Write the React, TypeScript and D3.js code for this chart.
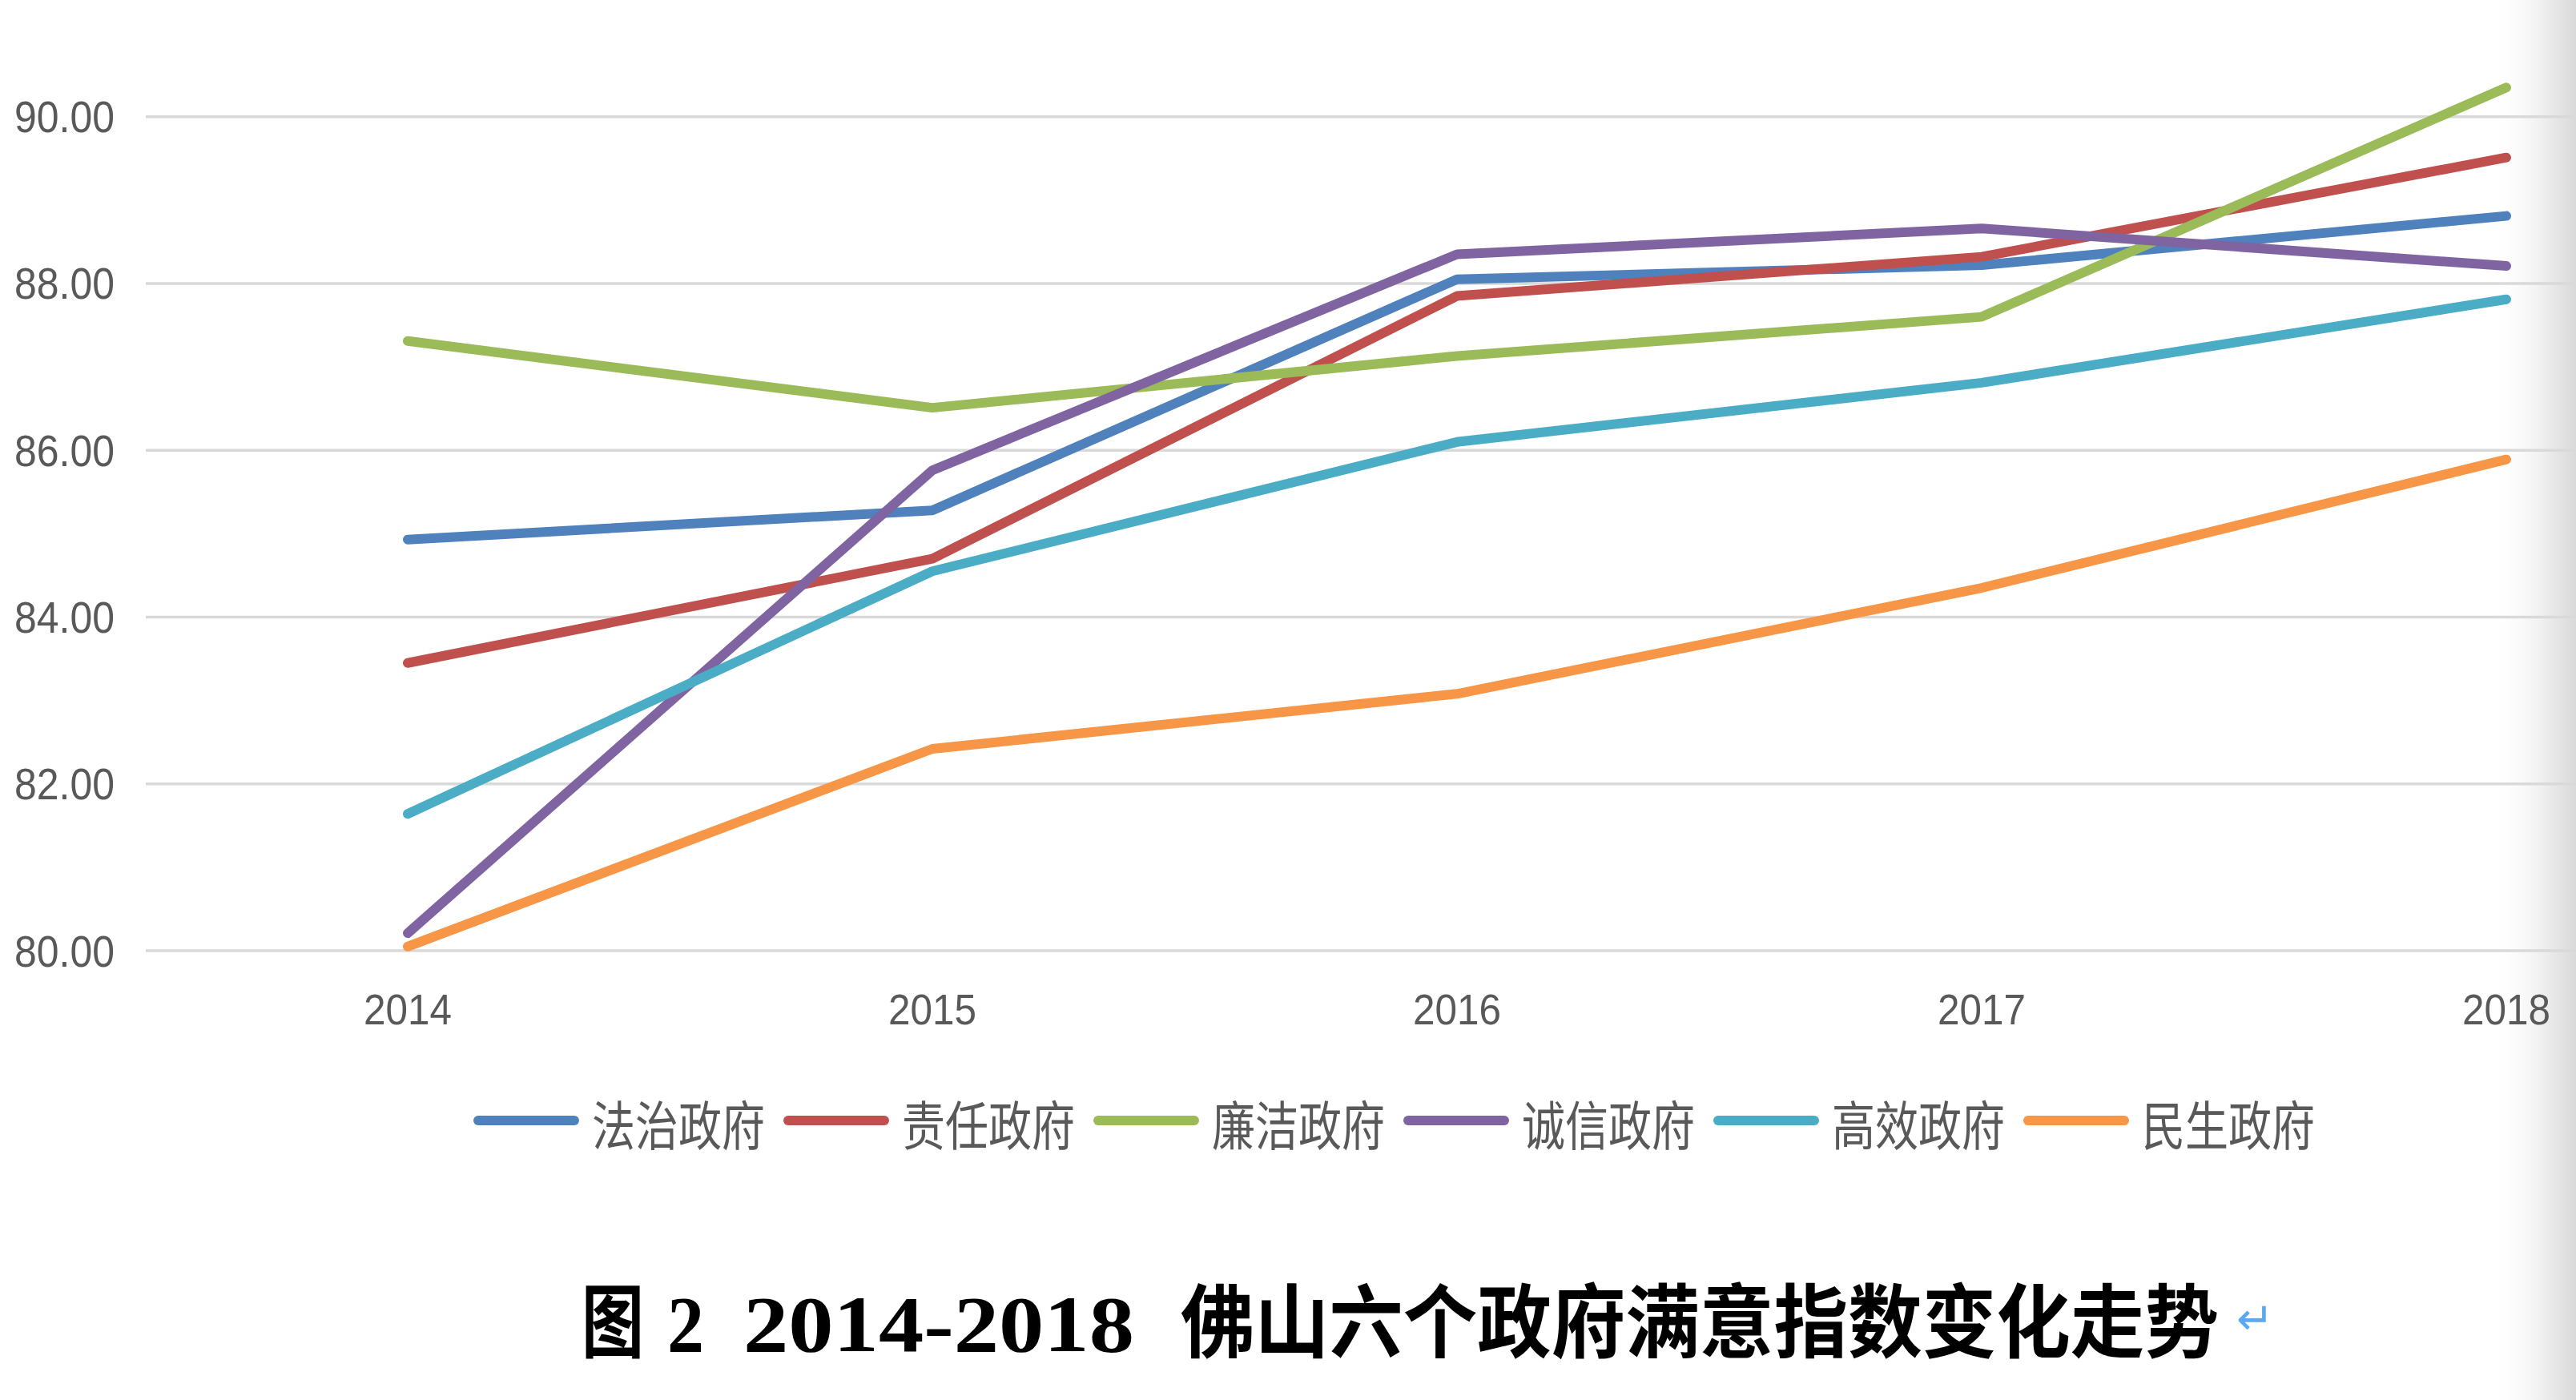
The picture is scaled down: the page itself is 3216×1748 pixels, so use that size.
import React, { useEffect, useRef } from "react";
import * as d3 from "d3";

const years = ["2014", "2015", "2016", "2017", "2018"];
const seriesNames = ["法治政府", "责任政府", "廉洁政府", "诚信政府", "高效政府", "民生政府"];
const fazhi = [84.93, 85.28, 88.05, 88.22, 88.81];
const zeren = [83.45, 84.7, 87.85, 88.32, 89.51];
const lianjie = [87.31, 86.51, 87.13, 87.6, 90.35];
const chengxin = [80.21, 85.76, 88.35, 88.66, 88.21];
const gaoxiao = [81.64, 84.55, 86.1, 86.81, 87.81];
const minsheng = [80.05, 82.42, 83.08, 84.35, 85.89];
const seriesValues = [fazhi, zeren, lianjie, chengxin, gaoxiao, minsheng];
const seriesColors = ["#4F81BD", "#C0504D", "#9BBB59", "#8064A2", "#4BACC6", "#F79646"];
const yTicks = [80, 82, 84, 86, 88, 90];
const titleParts = ["图", "2", "2014-2018", "佛山六个政府满意指数变化走势"];

const W = 3216;
const H = 1748;

export default function App() {
  const ref = useRef<SVGSVGElement | null>(null);

  useEffect(() => {
    const svg = d3.select(ref.current);
    svg.selectAll("*").remove();

    const defs = svg.append("defs");
    const grad = defs
      .append("linearGradient")
      .attr("id", "edge")
      .attr("x1", "0")
      .attr("x2", "1")
      .attr("y1", "0")
      .attr("y2", "0");
    grad.append("stop").attr("offset", "0").attr("stop-color", "#ffffff").attr("stop-opacity", 0);
    grad.append("stop").attr("offset", "0.55").attr("stop-color", "#f2f2f2").attr("stop-opacity", 1);
    grad.append("stop").attr("offset", "1").attr("stop-color", "#d9d9d9").attr("stop-opacity", 1);

    svg.append("rect").attr("x", 0).attr("y", 0).attr("width", W).attr("height", H).attr("fill", "#ffffff");

    // page edge shading (behind content)
    svg
      .append("rect")
      .attr("x", 3110)
      .attr("y", 0)
      .attr("width", W - 3110)
      .attr("height", H)
      .attr("fill", "url(#edge)");

    const x = d3.scalePoint<string>().domain(years).range([509, 3129]);
    const y = d3.scaleLinear().domain([80, 90]).range([1187, 145.7]);

    // gridlines
    svg
      .append("g")
      .selectAll("line")
      .data(yTicks)
      .join("line")
      .attr("x1", 182)
      .attr("x2", W)
      .attr("y1", (d) => y(d))
      .attr("y2", (d) => y(d))
      .attr("stroke", "#d9d9d9")
      .attr("stroke-width", 3.5);

    // y labels
    svg
      .append("g")
      .selectAll("text")
      .data(yTicks)
      .join("text")
      .attr("x", 143)
      .attr("y", (d) => y(d))
      .attr("text-anchor", "end")
      .attr("dominant-baseline", "central")
      .attr("font-family", "Liberation Sans, Arial, sans-serif")
      .attr("font-size", 56)
      .attr("fill", "#595959")
      .attr("textLength", 125)
      .attr("lengthAdjust", "spacingAndGlyphs")
      .text((d) => d.toFixed(2));

    // x labels
    svg
      .append("g")
      .selectAll("text")
      .data(years)
      .join("text")
      .attr("x", (d) => x(d)! - 55)
      .attr("y", 1260)
      .attr("dominant-baseline", "central")
      .attr("font-family", "Liberation Sans, Arial, sans-serif")
      .attr("font-size", 54)
      .attr("fill", "#595959")
      .attr("textLength", 110)
      .attr("lengthAdjust", "spacingAndGlyphs")
      .text((d) => d);

    // lines
    const line = d3
      .line<number>()
      .x((_, i) => x(years[i])!)
      .y((d) => y(d));
    svg
      .append("g")
      .selectAll("path")
      .data(seriesValues)
      .join("path")
      .attr("d", (d) => line(d))
      .attr("fill", "none")
      .attr("stroke", (_, i) => seriesColors[i])
      .attr("stroke-width", 12)
      .attr("stroke-linecap", "round")
      .attr("stroke-linejoin", "round");

    // legend
    const legend = svg.append("g");
    seriesNames.forEach((name, i) => {
      const lx = 591 + i * 387;
      legend
        .append("line")
        .attr("x1", lx + 6)
        .attr("x2", lx + 126)
        .attr("y1", 1399)
        .attr("y2", 1399)
        .attr("stroke", seriesColors[i])
        .attr("stroke-width", 12)
        .attr("stroke-linecap", "round");
      legend
        .append("text")
        .attr("x", lx + 148)
        .attr("y", 1401)
        .attr("dominant-baseline", "central")
        .attr("font-family", "Noto Sans CJK SC, sans-serif")
        .attr("font-size", 66)
        .attr("fill", "#595959")
        .attr("textLength", 216)
        .attr("lengthAdjust", "spacingAndGlyphs")
        .text(name);
    });

    // title, one text element per piece
    const tx = [726, 833, 928, 1474];
    const tw = [78, 46, 488, 1296];
    const titleG = svg.append("g");
    titleParts.forEach((p, i) => {
      titleG
        .append("text")
        .attr("x", tx[i])
        .attr("y", 1687)
        .attr("font-size", 100)
        .attr("font-weight", "bold")
        .attr("fill", "#000000")
        .attr("textLength", tw[i])
        .attr("lengthAdjust", "spacingAndGlyphs")
        .attr("font-family", i === 1 || i === 2 ? "Liberation Serif, serif" : "Noto Sans CJK SC, sans-serif")
        .text(p);
    });

    // paragraph mark after the title
    svg
      .append("text")
      .attr("x", 2792)
      .attr("y", 1666)
      .attr("font-family", "DejaVu Sans, sans-serif")
      .attr("font-size", 56)
      .attr("fill", "#5aa9f0")
      .text("↵");
  }, []);

  return (
    <svg
      ref={ref}
      width={W}
      height={H}
      style={{ position: "absolute", left: 0, top: 0, display: "block" }}
    />
  );
}
